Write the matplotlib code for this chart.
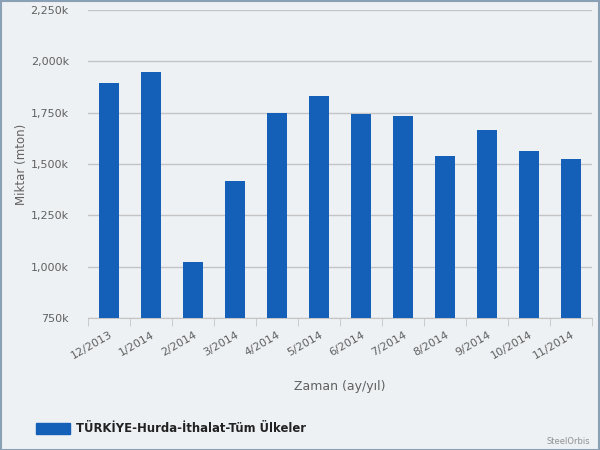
import numpy as np
import matplotlib.pyplot as plt
from matplotlib.patches import Rectangle

months = ['12/2013', '1/2014', '2/2014', '3/2014', '4/2014', '5/2014',
          '6/2014', '7/2014', '8/2014', '9/2014', '10/2014', '11/2014']
values = [1893, 1946, 1024, 1417, 1750, 1833, 1745, 1735, 1539, 1666, 1563, 1524]
yticks = [750, 1000, 1250, 1500, 1750, 2000, 2250]
series_name = 'TÜRKİYE-Hurda-İthalat-Tüm Ülkeler'

bg = '#eef1f4'
bar_color = '#145fb8'
text_color = '#606060'

fig = plt.figure(figsize=(6, 4.5), dpi=100, facecolor=bg)
ax = fig.add_axes([0.147, 0.293, 0.84, 0.685])
ax.set_facecolor(bg)

x = np.arange(len(months))
ax.bar(x, values, width=0.48, color=bar_color, zorder=3)

ax.set_xlim(-0.5, len(months) - 0.5)
ax.set_ylim(750, 2250)
ax.set_yticks(yticks)
ax.set_yticklabels([f'{v:,}k' for v in yticks], color=text_color, fontsize=8)
ax.yaxis.grid(True, color='#c4c4c4', linewidth=1, zorder=1)
ax.tick_params(axis='y', length=0, pad=14)

ax.set_xticks(x)
ax.set_xticklabels(months, rotation=30, ha='right', rotation_mode='anchor',
                   color=text_color, fontsize=8)
ax.set_xticks(np.arange(len(months) + 1) - 0.5, minor=True)
ax.tick_params(axis='x', which='major', length=0, pad=8)
ax.tick_params(axis='x', which='minor', length=6, color='#c4c4c4')

for s in ['top', 'right', 'left']:
    ax.spines[s].set_visible(False)
ax.spines['bottom'].set_color('#c4c4c4')

ax.set_ylabel('Miktar (mton)', color=text_color, fontsize=8.5, labelpad=2)
ax.set_xlabel('Zaman (ay/yıl)', color=text_color, fontsize=9, labelpad=14)

# legend
fig.patches.append(Rectangle((36 / 600, 1 - 434 / 450), 34 / 600, 11 / 450,
                             transform=fig.transFigure, color=bar_color))
fig.text(76 / 600, 1 - 429 / 450, series_name, fontsize=8.4, fontweight='bold',
         color='#222222', va='center')
fig.text(590 / 600, 1 - 442 / 450, 'SteelOrbis', fontsize=6, color='#909090',
         ha='right', va='center')

# border
fig.patches.append(Rectangle((0.001, 0.001), 0.997, 0.997, transform=fig.transFigure,
                             fill=False, edgecolor='#8aa0b4', linewidth=1.5))

fig.savefig('out.png', dpi=100, facecolor=bg)
